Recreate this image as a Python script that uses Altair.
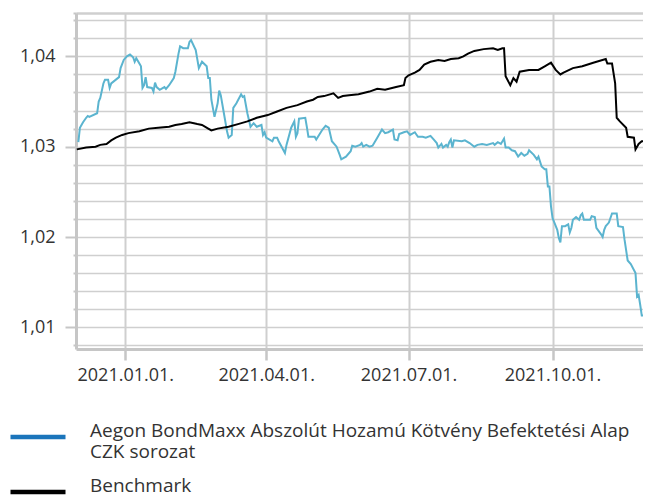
import altair as alt
import pandas as pd

FUND = "Aegon BondMaxx Abszolút Hozamú Kötvény Befektetési Alap CZK sorozat"
BENCH = "Benchmark"
FUND_LINES = ["Aegon BondMaxx Abszolút Hozamú Kötvény Befektetési Alap", "CZK sorozat"]

fund_dates = [
    "2020-12-02", "2020-12-03", "2020-12-05", "2020-12-07", "2020-12-08", "2020-12-09",
    "2020-12-14", "2020-12-15", "2020-12-16", "2020-12-18", "2020-12-19", "2020-12-21",
    "2020-12-22", "2020-12-23", "2020-12-28", "2020-12-29", "2020-12-31", "2021-01-02",
    "2021-01-04", "2021-01-06", "2021-01-07", "2021-01-08", "2021-01-10", "2021-01-11",
    "2021-01-12", "2021-01-13", "2021-01-14", "2021-01-15", "2021-01-18", "2021-01-19",
    "2021-01-20", "2021-01-21", "2021-01-23", "2021-01-26", "2021-01-27", "2021-01-29",
    "2021-02-01", "2021-02-02", "2021-02-04", "2021-02-05", "2021-02-07", "2021-02-10",
    "2021-02-11", "2021-02-12", "2021-02-15", "2021-02-17", "2021-02-19", "2021-02-22",
    "2021-02-23", "2021-02-24", "2021-02-25", "2021-02-27", "2021-03-01", "2021-03-02",
    "2021-03-03", "2021-03-05", "2021-03-07", "2021-03-08", "2021-03-10", "2021-03-11",
    "2021-03-13", "2021-03-16", "2021-03-17", "2021-03-18", "2021-03-20", "2021-03-22",
    "2021-03-24", "2021-03-26", "2021-03-29", "2021-03-30", "2021-03-31", "2021-04-01",
    "2021-04-05", "2021-04-06", "2021-04-08", "2021-04-09", "2021-04-13", "2021-04-14",
    "2021-04-17", "2021-04-19", "2021-04-20", "2021-04-21", "2021-04-22", "2021-04-26",
    "2021-04-27", "2021-04-28", "2021-05-02", "2021-05-03", "2021-05-07", "2021-05-09",
    "2021-05-11", "2021-05-13", "2021-05-16", "2021-05-18", "2021-05-19", "2021-05-22",
    "2021-05-25", "2021-05-26", "2021-05-28", "2021-05-31", "2021-06-01", "2021-06-02",
    "2021-06-04", "2021-06-06", "2021-06-08", "2021-06-11", "2021-06-14", "2021-06-16",
    "2021-06-18", "2021-06-21", "2021-06-22", "2021-06-24", "2021-06-25", "2021-06-28",
    "2021-06-30", "2021-07-02", "2021-07-05", "2021-07-07", "2021-07-10", "2021-07-12",
    "2021-07-15", "2021-07-17", "2021-07-19", "2021-07-20", "2021-07-22", "2021-07-23",
    "2021-07-25", "2021-07-26", "2021-07-27", "2021-07-28", "2021-07-29", "2021-07-30",
    "2021-08-04", "2021-08-06", "2021-08-09", "2021-08-12", "2021-08-14", "2021-08-17",
    "2021-08-20", "2021-08-24", "2021-08-25", "2021-08-27", "2021-08-29", "2021-08-31",
    "2021-09-01", "2021-09-03", "2021-09-05", "2021-09-07", "2021-09-09", "2021-09-11",
    "2021-09-13", "2021-09-15", "2021-09-16", "2021-09-19", "2021-09-21", "2021-09-22",
    "2021-09-24", "2021-09-26", "2021-09-27", "2021-09-28", "2021-09-29", "2021-09-30",
    "2021-10-01", "2021-10-04", "2021-10-05", "2021-10-06", "2021-10-07", "2021-10-09",
    "2021-10-11", "2021-10-12", "2021-10-13", "2021-10-14", "2021-10-16", "2021-10-18",
    "2021-10-19", "2021-10-20", "2021-10-21", "2021-10-25", "2021-10-26", "2021-10-28",
    "2021-10-29", "2021-11-01", "2021-11-02", "2021-11-03", "2021-11-04", "2021-11-06",
    "2021-11-08", "2021-11-11", "2021-11-12", "2021-11-15", "2021-11-16", "2021-11-18",
    "2021-11-20", "2021-11-23", "2021-11-24", "2021-11-25", "2021-11-26", "2021-11-27",
    "2021-11-28",
]
fund_values = [
    1.0305, 1.0321, 1.0327, 1.0332, 1.0334, 1.0333,
    1.0337, 1.0350, 1.0354, 1.0370, 1.0374, 1.0374,
    1.0365, 1.0370, 1.0377, 1.0387, 1.0396, 1.0400,
    1.0402, 1.0399, 1.0394, 1.0398, 1.0392, 1.0389,
    1.0365, 1.0368, 1.0377, 1.0366, 1.0365, 1.0361,
    1.0371, 1.0366, 1.0363, 1.0366, 1.0364, 1.0368,
    1.0376, 1.0383, 1.0403, 1.0411, 1.0409, 1.0409,
    1.0416, 1.0418, 1.0407, 1.0387, 1.0394, 1.0389,
    1.0376, 1.0376, 1.0352, 1.0333, 1.0348, 1.0362,
    1.0357, 1.0337, 1.0317, 1.0310, 1.0313, 1.0343,
    1.0348, 1.0358, 1.0355, 1.0356, 1.0337, 1.0322,
    1.0326, 1.0322, 1.0324, 1.0313, 1.0316, 1.0310,
    1.0306, 1.0310, 1.0310, 1.0306, 1.0293, 1.0302,
    1.0321, 1.0328, 1.0311, 1.0315, 1.0331, 1.0332,
    1.0322, 1.0311, 1.0311, 1.0308, 1.0319, 1.0323,
    1.0321, 1.0306, 1.0300, 1.0291, 1.0286, 1.0289,
    1.0295, 1.0301, 1.0300, 1.0302, 1.0304, 1.0300,
    1.0302, 1.0300, 1.0301, 1.0310, 1.0319, 1.0315,
    1.0316, 1.0319, 1.0308, 1.0307, 1.0314, 1.0316,
    1.0317, 1.0313, 1.0316, 1.0311, 1.0311, 1.0310,
    1.0312, 1.0308, 1.0304, 1.0299, 1.0303, 1.0299,
    1.0302, 1.0300, 1.0305, 1.0308, 1.0299, 1.0307,
    1.0306, 1.0307, 1.0304, 1.0300, 1.0302, 1.0303,
    1.0302, 1.0304, 1.0302, 1.0305, 1.0303, 1.0309,
    1.0299, 1.0299, 1.0296, 1.0295, 1.0289, 1.0293,
    1.0290, 1.0292, 1.0296, 1.0291, 1.0286, 1.0289,
    1.0278, 1.0275, 1.0275, 1.0256, 1.0256, 1.0234,
    1.0221, 1.0208, 1.0199, 1.0194, 1.0212, 1.0212,
    1.0214, 1.0205, 1.0210, 1.0219, 1.0222, 1.0219,
    1.0224, 1.0226, 1.0219, 1.0219, 1.0223, 1.0222,
    1.0210, 1.0203, 1.0200, 1.0208, 1.0212, 1.0216,
    1.0226, 1.0226, 1.0212, 1.0211, 1.0197, 1.0174,
    1.0170, 1.0160, 1.0134, 1.0136, 1.0125, 1.0113,
    1.0113,
]

bench_dates = [
    "2020-12-01", "2020-12-07", "2020-12-13", "2020-12-16", "2020-12-20", "2020-12-23",
    "2020-12-26", "2020-12-30", "2021-01-03", "2021-01-10", "2021-01-16", "2021-01-22",
    "2021-01-29", "2021-02-02", "2021-02-06", "2021-02-11", "2021-02-16", "2021-02-19",
    "2021-02-23", "2021-02-25", "2021-03-01", "2021-03-08", "2021-03-14", "2021-03-20",
    "2021-03-26", "2021-04-02", "2021-04-08", "2021-04-14", "2021-04-21", "2021-04-27",
    "2021-05-01", "2021-05-04", "2021-05-08", "2021-05-14", "2021-05-17", "2021-05-20",
    "2021-05-24", "2021-05-30", "2021-06-06", "2021-06-11", "2021-06-16", "2021-06-23",
    "2021-06-28", "2021-06-29", "2021-07-01", "2021-07-05", "2021-07-08", "2021-07-11",
    "2021-07-15", "2021-07-20", "2021-07-24", "2021-07-28", "2021-08-02", "2021-08-05",
    "2021-08-08", "2021-08-12", "2021-08-18", "2021-08-24", "2021-08-27", "2021-08-30",
    "2021-08-31", "2021-09-01", "2021-09-04", "2021-09-06", "2021-09-08", "2021-09-10",
    "2021-09-16", "2021-09-22", "2021-09-26", "2021-09-30", "2021-10-03", "2021-10-06",
    "2021-10-08", "2021-10-14", "2021-10-20", "2021-10-27", "2021-11-04", "2021-11-05",
    "2021-11-08", "2021-11-10", "2021-11-11", "2021-11-13", "2021-11-17", "2021-11-18",
    "2021-11-22", "2021-11-23", "2021-11-25", "2021-11-27", "2021-11-28",
]
bench_values = [
    1.0297, 1.0299, 1.0300, 1.0302, 1.0303, 1.0307,
    1.0310, 1.0313, 1.0315, 1.0317, 1.0320, 1.0321,
    1.0322, 1.0324, 1.0325, 1.0327, 1.0325, 1.0324,
    1.0320, 1.0318, 1.0320, 1.0322, 1.0325, 1.0328,
    1.0332, 1.0335, 1.0339, 1.0343, 1.0346, 1.0350,
    1.0352, 1.0355, 1.0356, 1.0359, 1.0354, 1.0356,
    1.0357, 1.0358, 1.0361, 1.0364, 1.0363, 1.0366,
    1.0368, 1.0376, 1.0379, 1.0382, 1.0385, 1.0391,
    1.0394, 1.0396, 1.0395, 1.0397, 1.0398, 1.0400,
    1.0403, 1.0406, 1.0408, 1.0409, 1.0407, 1.0409,
    1.0409, 1.0378, 1.0368, 1.0376, 1.0372, 1.0383,
    1.0385, 1.0385, 1.0389, 1.0393, 1.0385, 1.0380,
    1.0382, 1.0387, 1.0389, 1.0393, 1.0397, 1.0392,
    1.0392, 1.0370, 1.0332, 1.0328, 1.0321, 1.0311,
    1.0310, 1.0297, 1.0303, 1.0306, 1.0306,
]

y_ticks = [1.008, 1.010, 1.012, 1.014, 1.016, 1.018, 1.020, 1.022, 1.024, 1.026,
           1.028, 1.030, 1.032, 1.034, 1.036, 1.038, 1.040, 1.042, 1.044, 1.0448]
y_domain = [1.0076, 1.0448]

line_colors = ["#5bb4cf", "#000000"]
legend_colors = ["#1b75bb", "#000000"]

fund_df = pd.DataFrame({"date": fund_dates, "value": fund_values, "series": FUND})
bench_df = pd.DataFrame({"date": bench_dates, "value": bench_values, "series": BENCH})
all_df = pd.concat([fund_df, bench_df], ignore_index=True)

FONT = "Open Sans"
GRID = "#cfcfcf"
AXIS = "#c6c6c6"
TEXT = "#333333"

major = "abs(datum.value * 100 - round(datum.value * 100)) < 0.0001"

x_enc = alt.X(
    "date:T",
    title=None,
    scale=alt.Scale(
        type="utc",
        domain=[alt.DateTime(year=2020, month=11, date=30, hours=12, utc=True),
                alt.DateTime(year=2021, month=11, date=27, hours=19, utc=True)],
    ),
    axis=alt.Axis(
        values=[alt.DateTime(year=2021, month=m, date=1, utc=True) for m in (1, 4, 7, 10)],
        format="%Y.%m.%d.",
        labelFont=FONT, labelFontSize=18, labelColor=TEXT,
        labelPadding=6, labelOverlap=False, labelFlush=False,
        tickSize=11, tickWidth=2.5, tickColor=AXIS,
        domainColor=AXIS, domainWidth=3,
        grid=True, gridColor=GRID, gridWidth=2,
    ),
)
y_enc = alt.Y(
    "value:Q",
    title=None,
    scale=alt.Scale(domain=y_domain, nice=False, zero=False),
    axis=alt.Axis(
        values=y_ticks,
        labelExpr=f"({major}) ? replace(format(datum.value, '.2f'), '.', ',') : ''",
        labelFont=FONT, labelFontSize=18, labelColor=TEXT,
        labelPadding=10,
        tickSize={"condition": {"test": major, "value": 11}, "value": 3},
        tickWidth=2, tickColor=AXIS,
        domainColor=AXIS, domainWidth=3,
        grid=True, gridColor=GRID,
        gridWidth={"condition": {"test": "datum.value > 1.0445", "value": 2.5}, "value": 1.6},
    ),
)

line_color = alt.Color(
    "series:N", scale=alt.Scale(domain=[FUND, BENCH], range=line_colors), legend=None)

fund_lines_js = "[" + ", ".join(f"'{s}'" for s in FUND_LINES) + "]"
legend_color = alt.Color(
    "series:N",
    scale=alt.Scale(domain=[FUND, BENCH], range=legend_colors),
    legend=alt.Legend(
        title=None,
        orient="none",
        legendX=-68,
        legendY=394,
        direction="vertical",
        symbolType="stroke",
        symbolSize=3025,
        symbolStrokeWidth=4.5,
        symbolOpacity=1,
        labelFont=FONT, labelFontSize=19, labelColor=TEXT,
        labelOffset=22, labelLimit=0,
        labelBaseline="alphabetic",
        rowPadding=0,
        labelExpr=f"datum.label == '{BENCH}' ? datum.label : {fund_lines_js}",
    ),
)

fund_line = alt.Chart(fund_df).mark_line(strokeWidth=2, clip=True).encode(
    x=x_enc, y=y_enc, color=line_color)
bench_line = alt.Chart(bench_df).mark_line(strokeWidth=2, clip=True).encode(
    x=x_enc, y=y_enc, color=line_color)
legend_layer = alt.Chart(all_df).mark_line(strokeWidth=0, opacity=0, clip=True).encode(
    x=x_enc, y=y_enc, color=legend_color)

chart = alt.layer(fund_line, bench_line, legend_layer).resolve_scale(
    color="independent"
).properties(
    width=567, height=336,
    padding={"left": 0, "top": 4, "right": 0, "bottom": 0},
    background="white",
).configure_view(strokeWidth=0)

chart.save("out.html", embed_options={"renderer": "svg", "actions": False})
